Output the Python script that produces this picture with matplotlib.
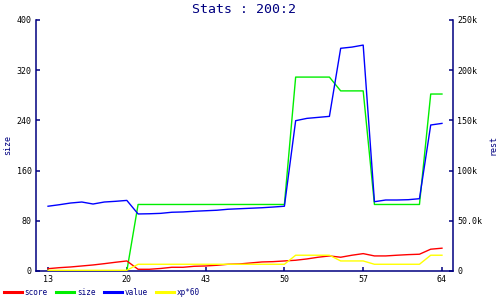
import numpy as np
import matplotlib
matplotlib.use("Agg")
import matplotlib.pyplot as plt

plt.rcParams['font.family'] = ['DejaVu Sans Mono']

navy = '#000080'

# x positions are sample indices, labelled every 7th sample
tick_idx = [0, 7, 14, 21, 28, 35]
tick_lbl = ['13', '20', '43', '50', '57', '64']

# left axis (size)
size = [0, 0, 0, 0, 0, 0, 0, 0,
        106, 106, 106, 106, 106, 106, 106, 106, 106, 106, 106, 106, 106, 106,
        309, 309, 309, 309, 287, 287, 287,
        106, 106, 106, 106, 106, 282, 282]

# right axis (rest), in thousands
score = [2.3, 3.3, 4.0, 5.0, 6.0, 7.3, 8.7, 10.0,
         1.7, 1.7, 2.5, 3.7, 3.7, 4.7, 5.0, 5.7, 6.7, 7.0, 8.0, 9.0, 9.3, 10.0,
         10.7, 12.0, 13.7, 15.0, 13.7, 15.7, 17.3,
         15.0, 15.0, 15.7, 16.3, 16.7, 21.7, 22.7]
value = [64.5, 66.0, 67.7, 68.7, 66.7, 68.7, 69.4, 70.3,
         56.8, 57.0, 57.4, 58.5, 58.8, 59.5, 60.0, 60.5, 61.5, 62.0, 62.5, 63.0, 63.7, 64.5,
         149.7, 152.0, 153.0, 154.0, 221.8, 223.0, 225.0,
         69.0, 70.7, 70.7, 71.0, 72.0, 145.4, 147.0]
xp60 = [0.7, 0.7, 0.7, 0.7, 0.7, 0.7, 0.7, 0.7,
        6.7, 6.7, 6.7, 6.7, 6.7, 6.7, 6.7, 6.7, 6.7, 6.7, 6.7, 6.7, 6.7, 6.7,
        15.7, 15.7, 15.7, 15.7, 10.0, 10.0, 10.0,
        6.7, 6.7, 6.7, 6.7, 6.7, 15.7, 15.7]

left_ticks = [0, 80, 160, 240, 320, 400]
right_ticks = [0, 50, 100, 150, 200, 250]
right_lbl = ['0', '50.0k', '100k', '150k', '200k', '250k']

x = np.arange(len(size))

fig = plt.figure(figsize=(5, 3), dpi=100)
ax = fig.add_axes([0.072, 0.0967, 0.834, 0.8367])
ax2 = ax.twinx()

lw = 1.0
l_size, = ax.plot(x, size, color='#00ee00', lw=lw)
l_score, = ax2.plot(x, score, color='#ff0000', lw=lw)
l_value, = ax2.plot(x, value, color='#0000ff', lw=lw)
l_xp, = ax2.plot(x, xp60, color='#ffff00', lw=lw)

ax.set_xlim(-1.07, 35.98)
ax.set_ylim(0, 400)
ax2.set_ylim(0, 250)

for a in (ax, ax2):
    a.spines['top'].set_visible(False)
    for s in a.spines.values():
        s.set_color(navy)
        s.set_linewidth(1.1)
ax.spines['right'].set_visible(False)
ax2.spines['left'].set_visible(False)
ax2.spines['bottom'].set_visible(False)

ax.set_xticks(tick_idx)
ax.set_xticklabels(tick_lbl)
ax.set_yticks(left_ticks)
ax2.set_yticks(right_ticks)
ax2.set_yticklabels(right_lbl)

ax.tick_params(axis='both', direction='in', length=3, width=1.1, color=navy,
               labelsize=6, labelcolor='black', pad=3)
ax2.tick_params(axis='y', direction='in', length=3, width=1.1, color=navy,
                labelsize=6, labelcolor='black', pad=3)

ax.set_ylabel('size', color=navy, fontsize=6)
ax.yaxis.set_label_coords(-0.058, 0.5)
ax2.set_ylabel('rest', color=navy, fontsize=6, rotation=90, va='center')
ax2.yaxis.set_label_coords(1.096, 0.5)

fig.text(0.488, 0.967, 'Stats : 200:2', color=navy, fontsize=9.5,
         ha='center', va='center')

leg = fig.legend([l_score, l_size, l_value, l_xp], ['score', 'size', 'value', 'xp*60'],
                 loc='center left', bbox_to_anchor=(0.008, 0.025), ncol=4, frameon=False,
                 fontsize=5.5, handlelength=2.4, handletextpad=0.3, columnspacing=1.1,
                 borderaxespad=0, borderpad=0)
for t in leg.get_texts():
    t.set_color(navy)
for ln in leg.get_lines():
    ln.set_linewidth(2.2)

fig.savefig('out.png', dpi=100)
